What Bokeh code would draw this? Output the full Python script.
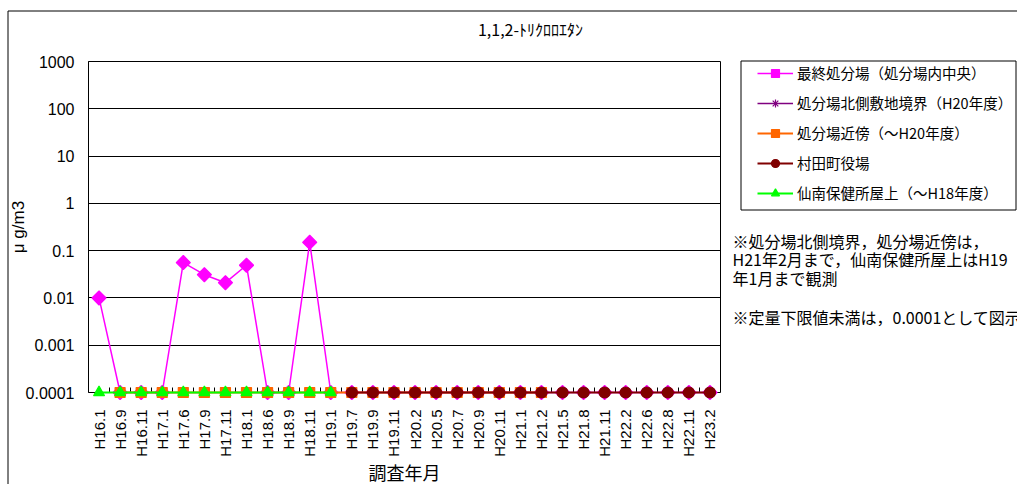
import math
from bokeh.plotting import figure
from bokeh.models import (FactorRange, Range1d, LinearAxis, CategoricalAxis, FixedTicker,
                          CustomJSTickFormatter, Legend, LegendItem)
from bokeh.core.properties import value
from bokeh.embed import file_html
from bokeh.resources import INLINE

categories = ["H16.1", "H16.9", "H16.11", "H17.1", "H17.6", "H17.9", "H17.11", "H18.1",
              "H18.6", "H18.9", "H18.11", "H19.1", "H19.7", "H19.9", "H19.11", "H20.2",
              "H20.5", "H20.7", "H20.9", "H20.11", "H21.1", "H21.2", "H21.5", "H21.8",
              "H21.11", "H22.2", "H22.6", "H22.8", "H22.11", "H23.2"]

N = None
saishu = [0.01, 0.0001, 0.0001, 0.0001, 0.056, 0.031, 0.021, 0.049, 0.0001, 0.0001, 0.15, 0.0001,
          0.0001, 0.0001, 0.0001, 0.0001, 0.0001, 0.0001, 0.0001, 0.0001, 0.0001, 0.0001,
          0.0001, 0.0001, 0.0001, 0.0001, 0.0001, 0.0001, 0.0001, 0.0001]
kita = [N, N, N, N, N, N, N, N, N, N, N, N, N, N, N, N,
        0.0001, 0.0001, 0.0001, 0.0001, 0.0001, 0.0001,
        N, N, N, N, N, N, N, N]
kinbo = [N, 0.0001, 0.0001, 0.0001, 0.0001, 0.0001, 0.0001, 0.0001, 0.0001, 0.0001, 0.0001, 0.0001,
         0.0001, 0.0001, 0.0001, 0.0001, 0.0001, 0.0001, 0.0001, 0.0001, 0.0001, 0.0001,
         N, N, N, N, N, N, N, N]
murata = [N, N, N, N, N, N, N, N, N, N, N, N,
          0.0001, 0.0001, 0.0001, 0.0001, 0.0001, 0.0001, 0.0001, 0.0001, 0.0001, 0.0001,
          0.0001, 0.0001, 0.0001, 0.0001, 0.0001, 0.0001, 0.0001, 0.0001]
sennan = [0.0001, 0.0001, 0.0001, 0.0001, 0.0001, 0.0001, 0.0001, 0.0001, 0.0001, 0.0001, 0.0001, 0.0001,
          N, N, N, N, N, N, N, N, N, N, N, N, N, N, N, N, N, N]

series_names = ["最終処分場（処分場内中央）", "処分場北側敷地境界（H20年度）", "処分場近傍（～H20年度）",
                "村田町役場", "仙南保健所屋上（～H18年度）"]
y_ticks = [0.0001, 0.001, 0.01, 0.1, 1, 10, 100, 1000]

title_text = "1,1,2-ﾄﾘｸﾛﾛｴﾀﾝ"
x_title = "調査年月"
y_title = "μ g/m3"
note_lines = ["※処分場北側境界，処分場近傍は，",
              "H21年2月まで，仙南保健所屋上はH19",
              "年1月まで観測",
              "※定量下限値未満は，0.0001として図示"]


def arr(v):
    return [float("nan") if x is None else x for x in v]


JP = "Noto Sans CJK JP"
LAT = "Liberation Sans"

# layout (pixels on the page)
W, H = 1017, 484
FL, FR, FT, FB = 88, 720, 61, 392

p = figure(x_range=FactorRange(factors=categories), y_range=Range1d(y_ticks[0], y_ticks[-1]),
           y_axis_type="log", x_axis_location=None,
           frame_width=FR - FL, frame_height=FB - FT,
           min_border_left=FL, min_border_right=W - FR, min_border_top=FT, min_border_bottom=H - FB,
           output_backend="svg", toolbar_location=None,
           background_fill_color="white", border_fill_color="white",
           outline_line_color="black", outline_line_width=1)


def xdata(px):
    return (px - FL) / (FR - FL) * len(categories)


def ydata(py):
    lo, hi = math.log10(y_ticks[0]), math.log10(y_ticks[-1])
    return 10 ** (lo + (FB - py) / (FB - FT) * (hi - lo))


# y axis
yax = p.yaxis[0]
yax.ticker = FixedTicker(ticks=y_ticks)
yax.formatter = CustomJSTickFormatter(code="return tick.toString()")
yax.major_tick_out = 0
yax.major_tick_in = 0
yax.minor_tick_out = 0
yax.minor_tick_in = 0
yax.axis_line_color = "black"
yax.major_label_standoff = 14
yax.major_label_text_font = LAT
yax.major_label_text_font_size = "16px"
yax.major_label_text_color = "black"
yax.axis_label = y_title
yax.axis_label_text_font = LAT
yax.axis_label_text_font_size = "17px"
yax.axis_label_text_font_style = "normal"
yax.axis_label_text_color = "black"
yax.axis_label_standoff = -5

p.ygrid.ticker = FixedTicker(ticks=y_ticks)
p.ygrid.grid_line_color = "black"
p.ygrid.grid_line_width = 1
p.xgrid.visible = False

# boundary ticks on the x axis (between categories, in synthetic coordinates)
tick_axis = LinearAxis(ticker=FixedTicker(ticks=list(range(1, len(categories)))),
                       formatter=CustomJSTickFormatter(code="return ''"),
                       major_tick_in=5, major_tick_out=0, minor_tick_in=0, minor_tick_out=0,
                       major_tick_line_color="black", major_label_standoff=0,
                       axis_line_color=None)
p.add_layout(tick_axis, "below")

xax = CategoricalAxis(major_label_orientation=math.pi / 2,
                      major_tick_in=0, major_tick_out=0, axis_line_color=None,
                      major_label_standoff=17,
                      major_label_text_font=LAT, major_label_text_font_size="15px",
                      major_label_text_color="black",
                      axis_label=x_title, axis_label_standoff=-1,
                      axis_label_text_font=JP, axis_label_text_font_size="18px",
                      axis_label_text_font_style="normal", axis_label_text_color="black")
p.add_layout(xax, "below")

# series
styles = [
    (saishu, "#FF00FF", 1.5, dict(marker="square", angle=math.pi / 4, size=10)),
    (kita, "#800080", 1.5, dict(marker="asterisk", size=11)),
    (kinbo, "#FF6600", 2, dict(marker="square", size=10)),
    (murata, "#800000", 2, dict(marker="circle", size=11)),
    (sennan, "#00FF00", 2, dict(marker="triangle", size=11)),
]
items = []
for (vals, col, lw, mk), name in zip(styles, series_names):
    ys = arr(vals)
    lr = p.line(categories, ys, line_color=col, line_width=lw, level="overlay")
    sr = p.scatter(categories, ys, fill_color=col, line_color=col, line_width=1.2,
                   level="overlay", **mk)
    items.append(LegendItem(label=name, renderers=[lr, sr]))

legend = Legend(items=items, location=(752 - FR, FB - 208), padding=5, spacing=9,
                label_height=20, glyph_height=20, glyph_width=36, label_standoff=4,
                border_line_alpha=0, background_fill_alpha=0, margin=0,
                label_text_font=JP, label_text_font_size="14.5px", label_text_color="black")
p.add_layout(legend, "right")

# legend frame and chart-area frame
p.quad(left=[xdata(740.5)], right=[xdata(1015.5)], top=[ydata(60.5)], bottom=[ydata(209.5)],
       fill_color=None, line_color="black", line_width=1, level="overlay")
p.quad(left=[xdata(7.5)], right=[xdata(W + 20)], top=[ydata(10.5)], bottom=[ydata(H + 20)],
       fill_color=None, line_color="black", line_width=1, level="overlay")

# chart title
p.text(x=[xdata(530)], y=[ydata(28)], text=[title_text],
       text_align="center", text_baseline="middle", text_font=value(JP),
       text_font_size="16px", text_color="black", level="overlay")

# notes
note_y = [240, 258, 277, 316]
p.text(x=[xdata(732)] * len(note_lines), y=[ydata(v) for v in note_y], text=note_lines,
       text_align="left", text_baseline="middle", text_font=value(JP),
       text_font_size="16px", text_color="black", level="overlay")

open("out.html", "w").write(file_html(p, INLINE))
